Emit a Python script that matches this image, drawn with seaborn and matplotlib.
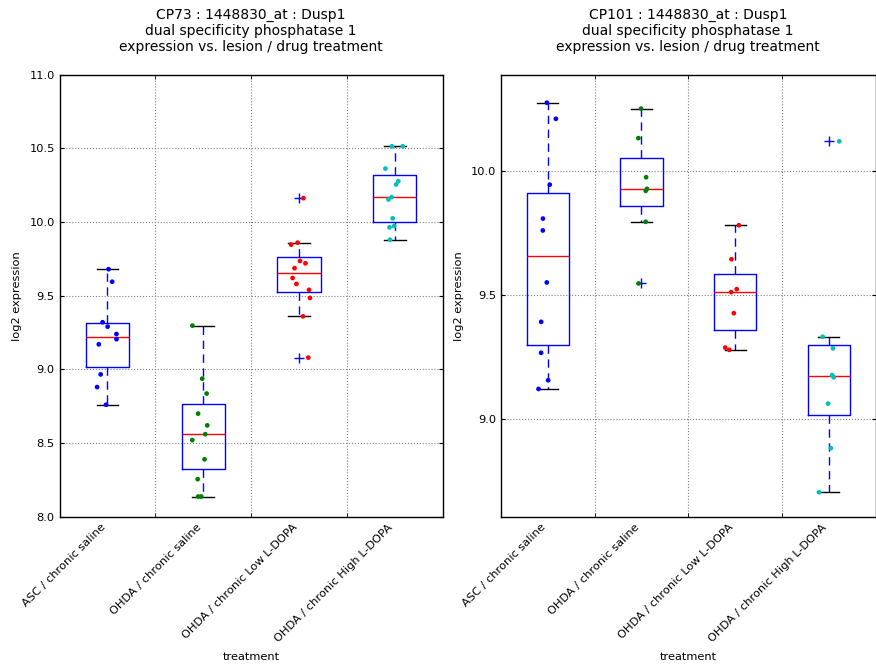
import numpy as np
import pandas as pd
import matplotlib
matplotlib.use("Agg")
import matplotlib.pyplot as plt
import seaborn as sns

categories = ["ASC / chronic saline", "OHDA / chronic saline",
              "OHDA / chronic Low L-DOPA", "OHDA / chronic High L-DOPA"]
point_colors = ["#0000ff", "#008000", "#ff0000", "#00bfbf"]

# CP73 values
cp73_asc = [9.68, 9.595, 9.32, 9.29, 9.24, 9.205, 9.17, 8.966, 8.88, 8.76]
cp73_ohda_saline = [9.297, 8.937, 8.836, 8.70, 8.62, 8.56, 8.52, 8.39, 8.255, 8.137, 8.137]
cp73_low = [10.162, 9.86, 9.847, 9.736, 9.72, 9.687, 9.62, 9.58, 9.54, 9.485, 9.36, 9.08]
cp73_high = [10.514, 10.514, 10.363, 10.277, 10.255, 10.169, 10.153, 10.025, 9.973, 9.964, 9.88]

# CP101 values
cp101_asc = [10.277, 10.212, 9.946, 9.809, 9.761, 9.551, 9.392, 9.267, 9.156, 9.121]
cp101_ohda_saline = [10.253, 10.134, 9.976, 9.929, 9.921, 9.796, 9.547]
cp101_low = [9.782, 9.645, 9.524, 9.512, 9.427, 9.288, 9.279]
cp101_high = [10.121, 9.332, 9.285, 9.177, 9.168, 9.062, 8.882, 8.704]

titles = ["CP73 : 1448830_at : Dusp1\ndual specificity phosphatase 1\nexpression vs. lesion / drug treatment",
          "CP101 : 1448830_at : Dusp1\ndual specificity phosphatase 1\nexpression vs. lesion / drug treatment"]
ylims = [(8.0, 11.0), (8.605, 10.39)]
yticks = [[8.0, 8.5, 9.0, 9.5, 10.0, 10.5, 11.0], [9.0, 9.5, 10.0]]

def make_df(groups):
    rows = []
    for cat, vals in zip(categories, groups):
        for v in vals:
            rows.append((cat, v))
    return pd.DataFrame(rows, columns=["treatment", "log2 expression"])

dfs = [make_df([cp73_asc, cp73_ohda_saline, cp73_low, cp73_high]),
       make_df([cp101_asc, cp101_ohda_saline, cp101_low, cp101_high])]

plt.rcParams["font.family"] = ["DejaVu Sans"]
fig = plt.figure(figsize=(8.76, 6.67), dpi=100)
positions = [[59.5 / 876, 0.2253, (442.7 - 59.5) / 876, 0.888 - 0.2253],
             [501 / 876, 0.2253, (875.5 - 501) / 876, 0.888 - 0.2253]]

np.random.seed(3)
for i in range(2):
    ax = fig.add_axes(positions[i])
    df = dfs[i]
    sns.boxplot(data=df, x="treatment", y="log2 expression", order=categories,
                ax=ax, width=0.45, whis=1.5, fill=False, color="blue",
                linewidth=1.0,
                boxprops=dict(color="blue"),
                medianprops=dict(color="red"),
                whiskerprops=dict(color="blue", linestyle=(0, (6, 4))),
                capprops=dict(color="black"),
                flierprops=dict(marker="+", markeredgecolor="blue",
                                markerfacecolor="blue", markersize=7))
    sns.stripplot(data=df, x="treatment", y="log2 expression", order=categories,
                  hue="treatment", hue_order=categories, palette=point_colors,
                  ax=ax, jitter=0.12, size=3.4, linewidth=0, legend=False, zorder=5)
    ax.set_xlim(-0.5, 3.5)
    ax.set_ylim(*ylims[i])
    ax.set_yticks(yticks[i])
    ax.set_yticklabels([f"{t:.1f}" for t in yticks[i]], fontsize=8.2)
    ax.set_xticks(range(len(categories)))
    ax.set_xticklabels(categories, rotation=45, ha="right", fontsize=8.2)
    ax.set_xticks([0.5, 1.5, 2.5], minor=True)
    ax.tick_params(axis="x", which="major", length=0, pad=4)
    ax.tick_params(axis="x", which="minor", length=3, direction="in", top=True, bottom=True)
    ax.tick_params(axis="y", which="major", length=3, direction="in", left=True, right=True)
    ax.grid(False)
    ax.grid(True, axis="y", which="major", color="gray", linestyle=":", linewidth=0.8)
    ax.grid(True, axis="x", which="minor", color="gray", linestyle=":", linewidth=0.8)
    ax.set_axisbelow(True)
    for s in ax.spines.values():
        s.set_visible(True)
        s.set_color("black")
        s.set_linewidth(1.0)
    ax.set_xlabel("treatment", fontsize=8.2, labelpad=6)
    ax.set_ylabel("log2 expression", fontsize=8.2, labelpad=5)
    ax.set_title(titles[i], fontsize=10, pad=17)

fig.savefig("out.png", dpi=100)
